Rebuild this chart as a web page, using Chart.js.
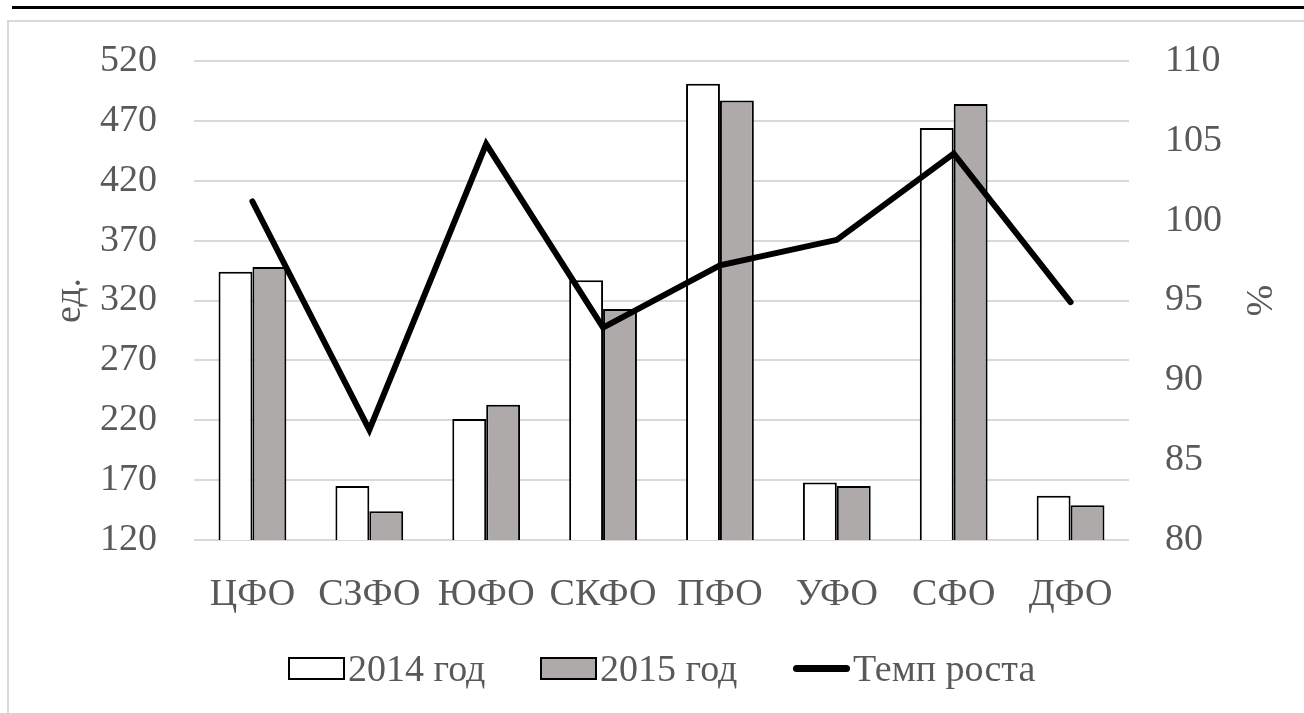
<!DOCTYPE html>
<html>
<head>
<meta charset="utf-8">
<script src="https://cdn.jsdelivr.net/npm/chart.js@4.4.1/dist/chart.umd.min.js"></script>
<style>
  body { margin: 0; background: #fff; overflow: hidden; }
  #wrap { position: relative; width: 1304px; height: 713px; }
  #topline { position: absolute; left: 12px; right: 0; top: 6px; height: 3px; background: #000; }
  #frame { position: absolute; left: 7px; top: 20px; width: 1400px; height: 800px; border: 2px solid #d9d9d9; }
  #box { position: absolute; left: 0; top: 0; width: 1304px; height: 713px; }
  #legend { position: absolute; left: 288px; top: 646px; display: flex; align-items: center;
            font-family: "Liberation Serif", serif; font-size: 38px; color: #595959; }
  .item { display: flex; align-items: center; gap: 3px; }
  .item:nth-child(1) { width: 252px; }
  .item:nth-child(2) { width: 253px; }
  .sw { width: 53px; height: 19px; border: 2px solid #000; }
  .ln { width: 57px; height: 7px; border-radius: 4px; background: #000; }
</style>
</head>
<body>
<div id="wrap">
  <div id="topline"></div>
  <div id="frame"></div>
  <div id="box"><canvas id="chart"></canvas></div>
  <div id="legend"></div>
</div>
<script>
const regions = ["ЦФО", "СЗФО", "ЮФО", "СКФО", "ПФО", "УФО", "СФО", "ДФО"];
const y2014 = [344, 165, 221, 337, 501, 168, 464, 157];
const y2015 = [348, 144, 233, 313, 487, 165, 484, 149];
const growth = [101.2, 86.9, 104.8, 93.3, 97.2, 98.8, 104.2, 94.9];
const seriesNames = ["2014 год", "2015 год", "Темп роста"];

const textColor = "#595959";
const font = { family: "Liberation Serif", size: 38 };

new Chart(document.getElementById("chart").getContext("2d"), {
  data: {
    labels: regions,
    datasets: [
      {
        type: "line",
        label: seriesNames[2],
        data: growth,
        yAxisID: "y1",
        borderColor: "#000",
        borderWidth: 6,
        borderCapStyle: "round",
        pointRadius: 0,
        tension: 0,
        order: 0,
      },
      {
        type: "bar",
        label: seriesNames[0],
        data: y2014,
        yAxisID: "y",
        backgroundColor: "#ffffff",
        borderColor: "#000",
        borderWidth: 2,
        borderSkipped: false,
        barPercentage: 1,
        categoryPercentage: 0.58,
        order: 1,
      },
      {
        type: "bar",
        label: seriesNames[1],
        data: y2015,
        yAxisID: "y",
        backgroundColor: "#aeaaaa",
        borderColor: "#000",
        borderWidth: 2,
        borderSkipped: false,
        barPercentage: 1,
        categoryPercentage: 0.58,
        order: 1,
      },
    ],
  },
  options: {
    responsive: true,
    maintainAspectRatio: false,
    animation: false,
    layout: { padding: { top: 61, bottom: 0, left: 0, right: 0 } },
    plugins: { legend: { display: false }, tooltip: { enabled: false } },
    scales: {
      x: {
        grid: { display: false },
        border: { display: false },
        ticks: { color: textColor, font: font, padding: 24, maxRotation: 0 },
        afterFit: (scale) => { scale.height = 173; },
      },
      y: {
        position: "left",
        min: 120,
        max: 520,
        ticks: { stepSize: 50, color: textColor, font: font, padding: 37 },
        grid: { color: "#d9d9d9", lineWidth: 2, drawTicks: false },
        border: { display: false },
        title: { display: true, text: "ед.", color: textColor, font: font, padding: { top: 47, bottom: 0 } },
        afterFit: (scale) => { scale.width = 194; },
      },
      y1: {
        position: "right",
        min: 80,
        max: 110,
        ticks: { stepSize: 5, color: textColor, font: font, padding: 36 },
        grid: { display: false, drawTicks: false },
        border: { display: false },
        title: { display: true, text: "%", color: textColor, font: font, padding: { top: 24, bottom: 0 } },
        afterFit: (scale) => { scale.width = 175; },
      },
    },
  },
});

// legend below the chart
const legend = document.getElementById("legend");
const swatches = ['<div class="sw" style="background:#ffffff"></div>',
                  '<div class="sw" style="background:#aeaaaa"></div>',
                  '<div class="ln"></div>'];
seriesNames.forEach((name, i) => {
  const item = document.createElement("div");
  item.className = "item";
  item.innerHTML = swatches[i] + "<span>" + name + "</span>";
  legend.appendChild(item);
});
</script>
</body>
</html>
